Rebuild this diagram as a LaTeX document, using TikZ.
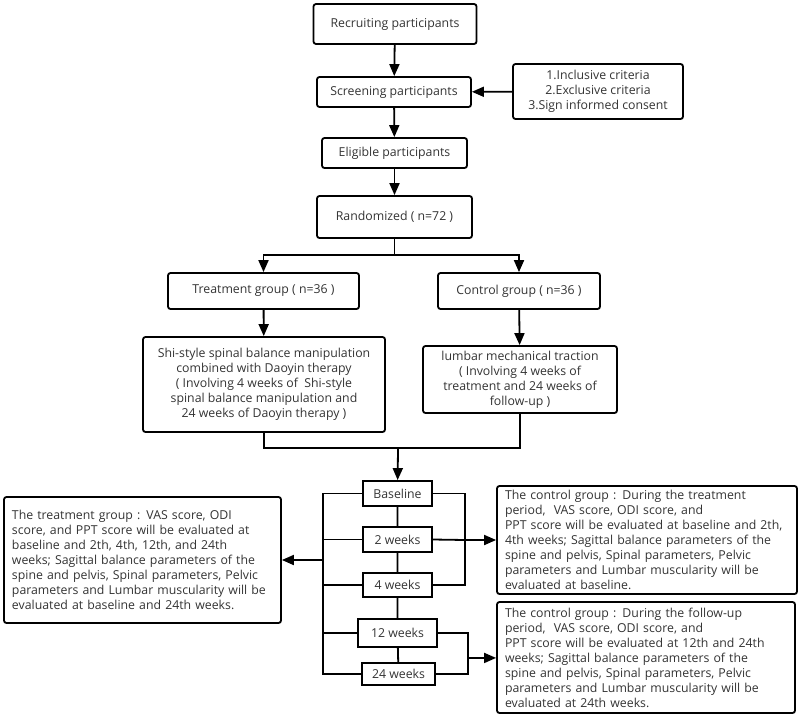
\documentclass[tikz,border=0pt]{standalone}
\usepackage{fontspec}
\setmainfont{Open Sans}
\usetikzlibrary{arrows.meta}
\begin{document}
\begin{tikzpicture}[x=1pt,y=-1pt,line width=1.8pt,
  every node/.style={font=\fontsize{12.3}{15}\selectfont,text=black!80},
  box/.style={draw,rounded corners=2.5pt,align=center,inner sep=2pt},
  wbox/.style={draw,align=center,inner sep=1pt},
  tbox/.style={draw,rounded corners=2.5pt,align=left,inner xsep=8pt,inner ysep=2pt},
  arr/.style={-{Triangle[length=12pt,width=10pt]}}]
 \useasboundingbox (0,0) rectangle (800,715);
 \node [box,minimum width=163,minimum height=40] (recruit) at (395,24) {Recruiting participants};
 \node [box,minimum width=154,minimum height=30] (screen) at (394,92) {Screening participants};
 \node [box,minimum width=170,minimum height=55] (criteria) at (598,91.5) {1.Inclusive criteria\\2.Exclusive criteria\\3.Sign informed consent};
 \node [box,minimum width=145,minimum height=30] (eligible) at (394.5,153) {Eligible participants};
 \node [box,minimum width=155,minimum height=42] (random) at (394.5,217) {Randomized ( n=72 )};
 \node [box,minimum width=191,minimum height=36] (treat) at (263.5,291) {Treatment group ( n=36 )};
 \node [box,minimum width=162,minimum height=36] (control) at (519,291) {Control group ( n=36 )};
 \node [box,minimum width=242,minimum height=95] (treatdesc) at (264,384.5) {Shi-style spinal balance manipulation\\combined with Daoyin therapy\\( Involving 4 weeks of \ Shi-style\\spinal balance manipulation and\\24 weeks of Daoyin therapy )};
 \node [box,minimum width=194,minimum height=67] (controldesc) at (520,379.5) {lumbar mechanical traction\\( Involving 4 weeks of\\treatment and 24 weeks of\\follow-up )};
 \node [wbox,minimum width=69,minimum height=25] (baseline) at (397.5,493.5) {Baseline};
 \node [wbox,minimum width=69,minimum height=25] (w2) at (397.5,539.5) {2 weeks};
 \node [wbox,minimum width=69,minimum height=24] (w4) at (397.5,585) {4 weeks};
 \node [wbox,minimum width=79,minimum height=28] (w12) at (397.5,633) {12 weeks};
 \node [wbox,minimum width=73,minimum height=22] (w24) at (398.5,674) {24 weeks};
 \node [tbox,text width=261,minimum height=126] (treateval) at (142.5,560) {The treatment group : VAS score, ODI\\score, and PPT score will be evaluated at\\baseline and 2th, 4th, 12th, and 24th\\weeks; Sagittal balance parameters of the\\spine and pelvis, Spinal parameters, Pelvic\\parameters and Lumbar muscularity will be\\evaluated at baseline and 24th weeks.};
 \node [tbox,text width=284,minimum height=108] (ctrleval1) at (647,540) {The control group : During the treatment\\period, \ VAS score, ODI score, and\\PPT score will be evaluated at baseline and 2th,\\4th weeks; Sagittal balance parameters of the\\spine and pelvis, Spinal parameters, Pelvic\\parameters and Lumbar muscularity will be\\evaluated at baseline.};
 \node [tbox,text width=282,minimum height=111] (ctrleval2) at (646,657.5) {The control group : During the follow-up\\period, \ VAS score, ODI score, and\\PPT score will be evaluated at 12th and 24th\\weeks; Sagittal balance parameters of the\\spine and pelvis, Spinal parameters, Pelvic\\parameters and Lumbar muscularity will be\\evaluated at 24th weeks.};
 \coordinate (split) at (394.5,255);
 \coordinate (merge) at (398,448);
 \coordinate (lb) at (323,560);
 \coordinate (rb1) at (465,540);
 \coordinate (rb2) at (468,658);
 \draw [arr] (recruit) -- (screen);
 \draw [arr] (criteria) -- (screen);
 \draw [arr] (screen) -- (eligible);
 \draw [arr] (eligible) -- (random);
 \draw (random) -- (split);
 \draw [arr] (split) -| (treat);
 \draw [arr] (split) -| (control);
 \draw [arr] (treat) -- (treatdesc);
 \draw [arr] (control) -- (controldesc);
 \draw (treatdesc) |- (merge) -| (controldesc);
 \draw [arr] (merge) -- (baseline);
 \draw (baseline) -- (w2) -- (w4) -- (w12) -- (w24);
 \draw (baseline.west) -- (baseline.west -| lb) -- (w24.west -| lb) -- (w24.west);
 \foreach \w in {w2,w4,w12} \draw (\w.west) -- (\w.west -| lb);
 \draw [arr] (lb) -- (treateval);
 \draw (baseline.east) -| (rb1) |- (w4.east);
 \draw (w2.east) -- (rb1);
 \draw [arr] (rb1) -- (ctrleval1);
 \draw (w12.east) -| (rb2) |- (w24.east);
 \draw [arr] (rb2) -- (ctrleval2);
\end{tikzpicture}
\end{document}
